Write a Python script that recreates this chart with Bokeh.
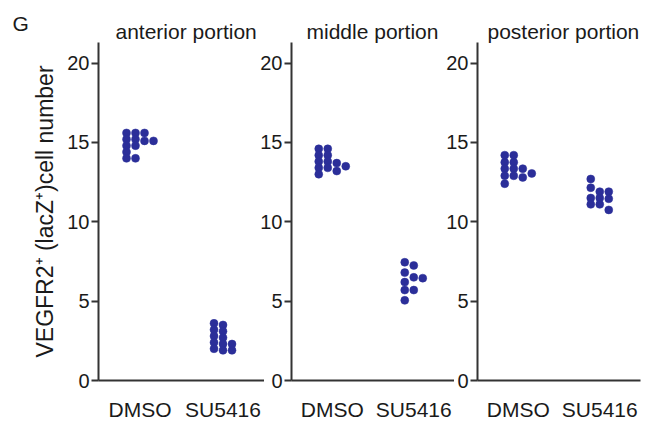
from bokeh.plotting import figure
from bokeh.layouts import row, column
from bokeh.models import Range1d, FixedTicker, Title, ColumnDataSource
from bokeh.core.properties import value
from bokeh.embed import file_html
from bokeh.resources import INLINE

# ---- data ----
panel_titles = ["anterior portion", "middle portion", "posterior portion"]
groups = ["DMSO", "SU5416"]
y_ticks = [0, 5, 10, 15, 20]
y_label = "VEGFR2\u207a (lacZ\u207a)cell number"
panel_letter = "G"

anterior_dmso = [15.6, 15.6, 15.6, 15.2, 15.2, 15.1, 15.1, 14.8, 14.8, 14.4, 14.0, 14.0]
anterior_su5416 = [3.6, 3.5, 3.2, 3.1, 2.8, 2.7, 2.4, 2.3, 2.3, 2.0, 1.9, 1.9]
middle_dmso = [14.6, 14.6, 14.2, 14.2, 13.8, 13.8, 13.7, 13.5, 13.4, 13.4, 13.2, 13.0]
middle_su5416 = [7.45, 7.25, 6.8, 6.5, 6.45, 6.2, 5.7, 5.7, 5.05]
posterior_dmso = [14.2, 14.2, 13.75, 13.75, 13.35, 13.35, 13.35, 13.05, 12.9, 12.9, 12.8, 12.4]
posterior_su5416 = [12.7, 12.15, 11.9, 11.9, 11.5, 11.5, 11.45, 11.1, 11.1, 10.75]

panel_data = [
    [anterior_dmso, anterior_su5416],
    [middle_dmso, middle_su5416],
    [posterior_dmso, posterior_su5416],
]

# ---- layout / style ----
Y_MAX = 21.3
FRAME_H = 338
TOP = 42
BOTTOM = 41
FIG_H = TOP + FRAME_H + BOTTOM
FRAME_W = [166, 163, 163]
BORDER_L = [98, 30, 30]
BORDER_R = [0, 0, 7]
MARGINS = [(0, 0, 0, 0), (0, 0, 0, -7), (0, 0, 0, -11)]
TITLE_OFFSET = [17, 15, 10]
COL_PX = 9.0
SEP = 0.36
DOT = "#2b2e99"
AXIS = "#333333"
TXT = "#1a1a1a"
FONT = "Liberation Sans"


def swarm(vals, sep):
    order = sorted(range(len(vals)), key=lambda i: -vals[i])
    cols = []
    idx = [0] * len(vals)
    for i in order:
        v = vals[i]
        c = 0
        while True:
            if c == len(cols):
                cols.append([])
                break
            if all(abs(v - w) >= sep for w in cols[c]):
                break
            c += 1
        cols[c].append(v)
        idx[i] = c
    return idx, len(cols)


figs = []
for k in range(3):
    p = figure(
        width=BORDER_L[k] + FRAME_W[k] + BORDER_R[k],
        height=FIG_H,
        frame_width=FRAME_W[k], frame_height=FRAME_H,
        min_border_left=BORDER_L[k], min_border_right=BORDER_R[k],
        min_border_top=TOP, min_border_bottom=BOTTOM,
        x_range=Range1d(0, len(groups)), y_range=Range1d(0, Y_MAX),
        output_backend="svg", toolbar_location=None,
        margin=MARGINS[k],
    )
    p.outline_line_color = None
    p.grid.visible = False
    p.border_fill_color = None
    p.background_fill_color = None

    t = Title(text=panel_titles[k], align="left", offset=TITLE_OFFSET[k],
              text_font=FONT, text_font_size="21px", text_font_style="normal",
              text_color=TXT, standoff=0)
    p.add_layout(t, "above")

    xs, ys = [], []
    unit_per_px = len(groups) / FRAME_W[k]
    for gi, vals in enumerate(panel_data[k]):
        idx, n = swarm(vals, SEP)
        for v, c in zip(vals, idx):
            xs.append(gi + 0.5 + (c - (n - 1) / 2.0) * COL_PX * unit_per_px)
            ys.append(v)
    src = ColumnDataSource(dict(x=xs, y=ys))
    p.scatter("x", "y", source=src, size=8, fill_color=DOT, line_color=DOT, line_width=0.5)

    # y axis
    ya = p.yaxis[0]
    ya.ticker = FixedTicker(ticks=y_ticks)
    ya.axis_line_color = AXIS
    ya.axis_line_width = 2
    ya.major_tick_line_color = AXIS
    ya.major_tick_line_width = 2
    ya.major_tick_out = 7
    ya.major_tick_in = 0
    ya.minor_tick_line_color = None
    ya.major_label_standoff = 2
    ya.major_label_text_font = FONT
    ya.major_label_text_font_size = "20px"
    ya.major_label_text_color = TXT
    if k == 0:
        ya.axis_label = y_label
        ya.axis_label_text_font = FONT
        ya.axis_label_text_font_size = "23px"
        ya.axis_label_text_font_style = "normal"
        ya.axis_label_text_color = TXT
        ya.axis_label_standoff = 6

    # x axis
    xa = p.xaxis[0]
    xa.ticker = FixedTicker(ticks=[i + 0.5 for i in range(len(groups))])
    xa.major_label_overrides = {i + 0.5: g for i, g in enumerate(groups)}
    xa.axis_line_color = AXIS
    xa.axis_line_width = 2
    xa.major_tick_line_color = None
    xa.major_tick_out = 0
    xa.major_tick_in = 0
    xa.minor_tick_line_color = None
    xa.major_label_standoff = 17
    xa.major_label_text_font = FONT
    xa.major_label_text_font_size = "21px"
    xa.major_label_text_color = TXT
    figs.append(p)

# transparent strip carrying the panel letter, laid over the top-left corner
LET_W, LET_H = 60, 60
gfig = figure(width=LET_W, height=LET_H, frame_width=LET_W, frame_height=LET_H,
              min_border=0, x_range=Range1d(0, LET_W), y_range=Range1d(0, LET_H),
              output_backend="svg", toolbar_location=None,
              margin=(-FIG_H, 0, 0, 0))
gfig.axis.visible = False
gfig.grid.visible = False
gfig.outline_line_color = None
gfig.border_fill_color = None
gfig.background_fill_color = None
gfig.text(x=[12], y=[LET_H - 21], text=[panel_letter], text_font=value(FONT),
          text_font_size="21px", text_color=TXT, text_baseline="alphabetic")

layout = column(row(*figs), gfig)
open("out.html", "w").write(file_html(layout, INLINE))
